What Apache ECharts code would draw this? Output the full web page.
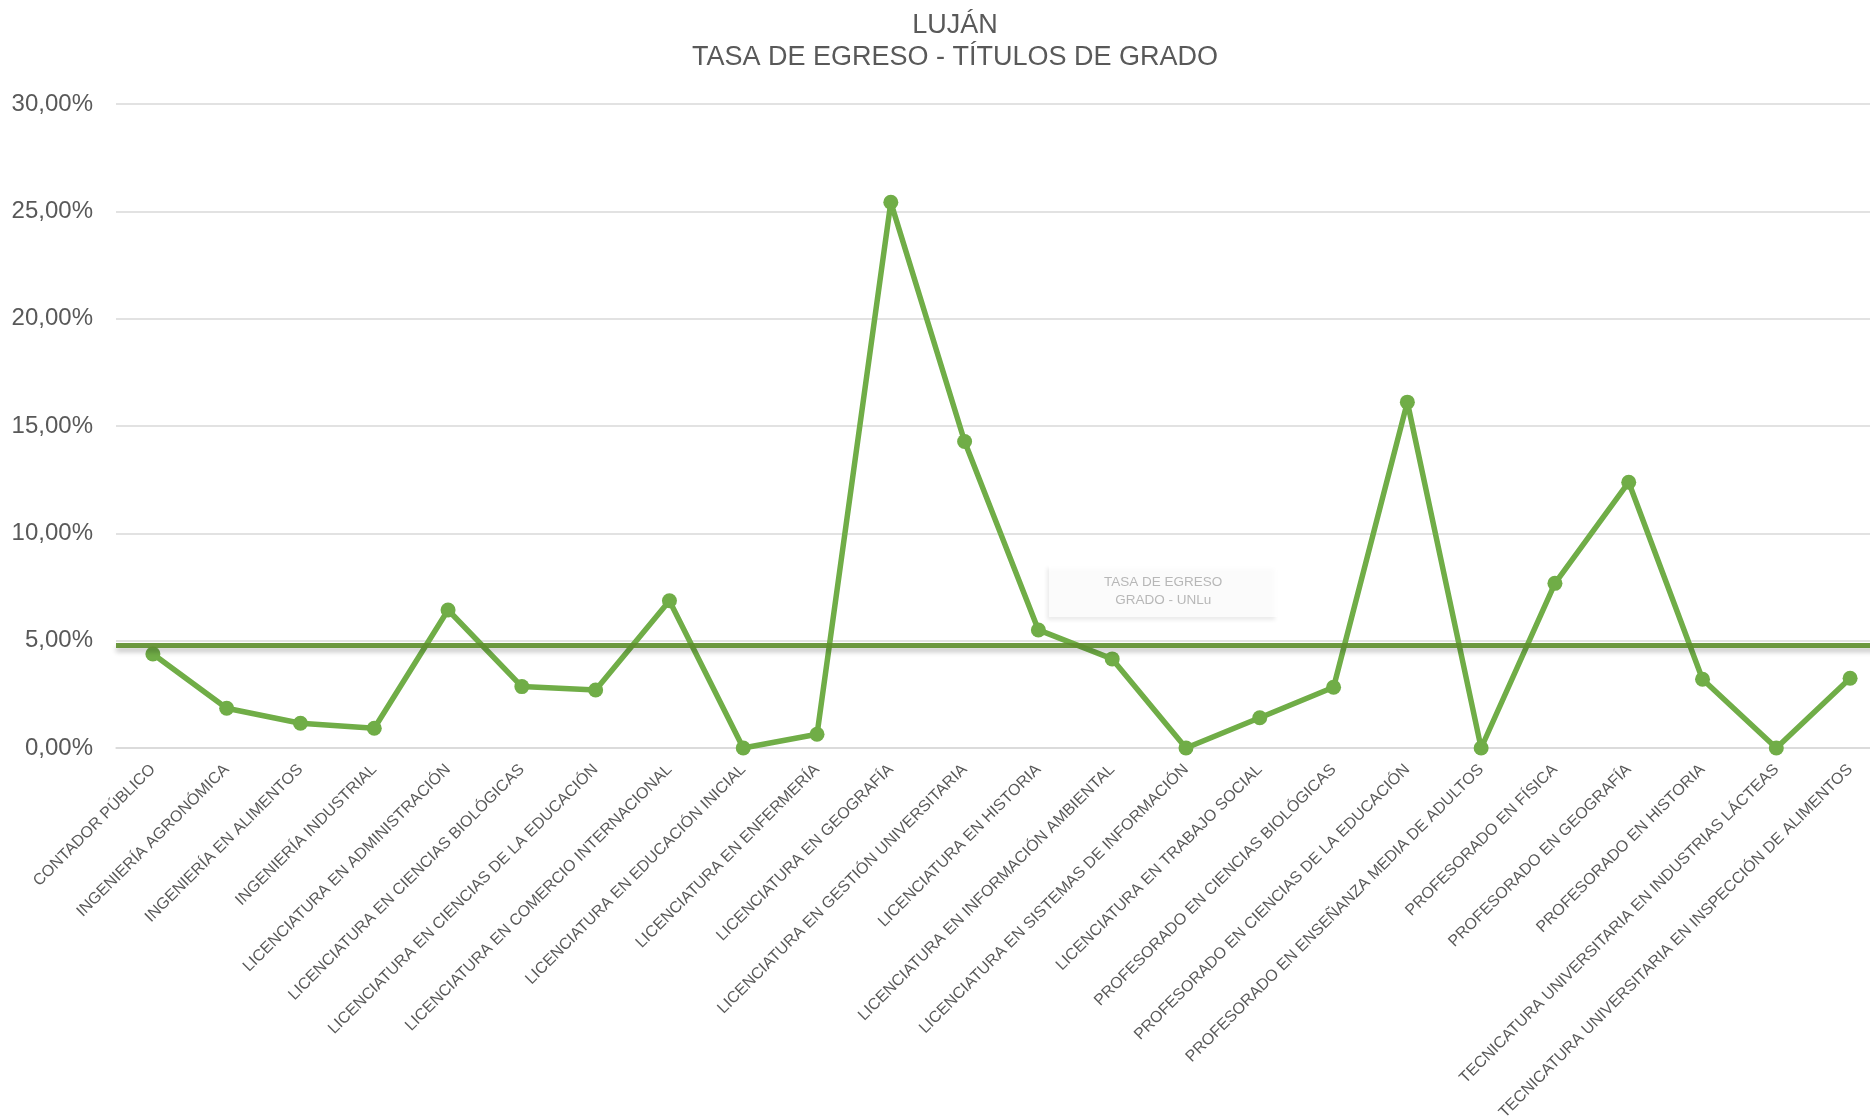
<!DOCTYPE html>
<html>
<head>
<meta charset="utf-8">
<title>Luján - Tasa de egreso</title>
<script src="https://cdn.jsdelivr.net/npm/echarts@6/dist/echarts.min.js"></script>
<style>
  html, body { margin: 0; padding: 0; background: #fff; }
  #chart { width: 1870px; height: 1119px; }
</style>
</head>
<body>
<div id="chart"></div>
<script>
// carreras de grado
const carreras = [
  'CONTADOR PÚBLICO',
  'INGENIERÍA AGRONÓMICA',
  'INGENIERÍA EN ALIMENTOS',
  'INGENIERÍA INDUSTRIAL',
  'LICENCIATURA EN ADMINISTRACIÓN',
  'LICENCIATURA EN CIENCIAS BIOLÓGICAS',
  'LICENCIATURA EN CIENCIAS DE LA EDUCACIÓN',
  'LICENCIATURA EN COMERCIO INTERNACIONAL',
  'LICENCIATURA EN EDUCACIÓN INICIAL',
  'LICENCIATURA EN ENFERMERÍA',
  'LICENCIATURA EN GEOGRAFÍA',
  'LICENCIATURA EN GESTIÓN UNIVERSITARIA',
  'LICENCIATURA EN HISTORIA',
  'LICENCIATURA EN INFORMACIÓN AMBIENTAL',
  'LICENCIATURA EN SISTEMAS DE INFORMACIÓN',
  'LICENCIATURA EN TRABAJO SOCIAL',
  'PROFESORADO EN CIENCIAS BIOLÓGICAS',
  'PROFESORADO EN CIENCIAS DE LA EDUCACIÓN',
  'PROFESORADO EN ENSEÑANZA MEDIA DE ADULTOS',
  'PROFESORADO EN FÍSICA',
  'PROFESORADO EN GEOGRAFÍA',
  'PROFESORADO EN HISTORIA',
  'TECNICATURA UNIVERSITARIA EN INDUSTRIAS LÁCTEAS',
  'TECNICATURA UNIVERSITARIA EN INSPECCIÓN DE ALIMENTOS'
];

// tasa de egreso (%) por carrera
const tasaEgreso = [
  4.38, 1.85, 1.15, 0.92, 6.43, 2.86, 2.70, 6.86, 0.00, 0.64,
  25.42, 14.28, 5.50, 4.15, 0.00, 1.41, 2.83, 16.11, 0.00, 7.67,
  12.38, 3.20, 0.00, 3.25
];

// tasa de egreso promedio de grado UNLu (%)
const tasaUNLu = 4.8;
const etiquetaUNLu = 'TASA DE EGRESO\nGRADO - UNLu';
const posEtiqueta = 'LICENCIATURA EN INFORMACIÓN AMBIENTAL';

const yTicks = { min: 0, max: 30, interval: 5 };

const fmtPct = v => v.toFixed(2).replace('.', ',') + '%';

const chart = echarts.init(document.getElementById('chart'));

const option = {
  animation: false,
  textStyle: { fontFamily: '"Liberation Sans", Arial, sans-serif' },
  title: {
    text: 'LUJÁN\nTASA DE EGRESO - TÍTULOS DE GRADO',
    left: 950,
    textAlign: 'center',
    top: 5,
    textStyle: {
      fontSize: 27,
      fontWeight: 'normal',
      color: '#595959',
      lineHeight: 32
    }
  },
  grid: {
    left: 116,
    right: -17,
    top: 104,
    bottom: 371,
    containLabel: false,
    outerBoundsMode: 'none'
  },
  xAxis: {
    type: 'category',
    data: carreras,
    boundaryGap: true,
    axisLine: { lineStyle: { color: '#d9d9d9', width: 1.5 } },
    axisTick: { show: false },
    axisLabel: {
      interval: 0,
      rotate: 45,
      margin: 19,
      fontSize: 16,
      color: '#595959'
    }
  },
  yAxis: {
    type: 'value',
    min: yTicks.min,
    max: yTicks.max,
    interval: yTicks.interval,
    axisLine: { show: false },
    axisTick: { show: false },
    axisLabel: {
      formatter: fmtPct,
      fontSize: 24,
      color: '#595959',
      margin: 23
    },
    splitLine: { lineStyle: { color: '#d9d9d9', width: 1.5 } }
  },
  series: [
    {
      name: 'Tasa de egreso',
      type: 'line',
      data: tasaEgreso,
      symbol: 'circle',
      symbolSize: 15,
      lineStyle: { color: '#70ad47', width: 5.5 },
      itemStyle: { color: '#70ad47' },
      z: 2
    },
    {
      name: 'Tasa UNLu',
      type: 'scatter',
      data: [[posEtiqueta, tasaUNLu]],
      symbolSize: 1,
      itemStyle: { color: 'rgba(0,0,0,0)' },
      z: 3,
      label: {
        show: true,
        position: 'inside',
        offset: [51, -54],
        formatter: etiquetaUNLu,
        fontSize: 13.5,
        lineHeight: 18,
        color: '#a6a6a6',
        backgroundColor: '#ffffff',
        padding: [7, 55, 9, 55],
        shadowColor: 'rgba(0,0,0,0.10)',
        shadowBlur: 4,
        shadowOffsetX: -2,
        shadowOffsetY: 3
      },
      markLine: {
        silent: true,
        symbol: 'none',
        label: { show: false },
        lineStyle: {
          color: '#5f8f2f',
          width: 5,
          type: 'solid',
          opacity: 0.92,
          shadowColor: 'rgba(0,0,0,0.25)',
          shadowBlur: 5,
          shadowOffsetY: 4
        },
        data: [{ yAxis: tasaUNLu }]
      }
    }
  ]
};

chart.setOption(option);
window.addEventListener('resize', () => chart.resize());
</script>
</body>
</html>
